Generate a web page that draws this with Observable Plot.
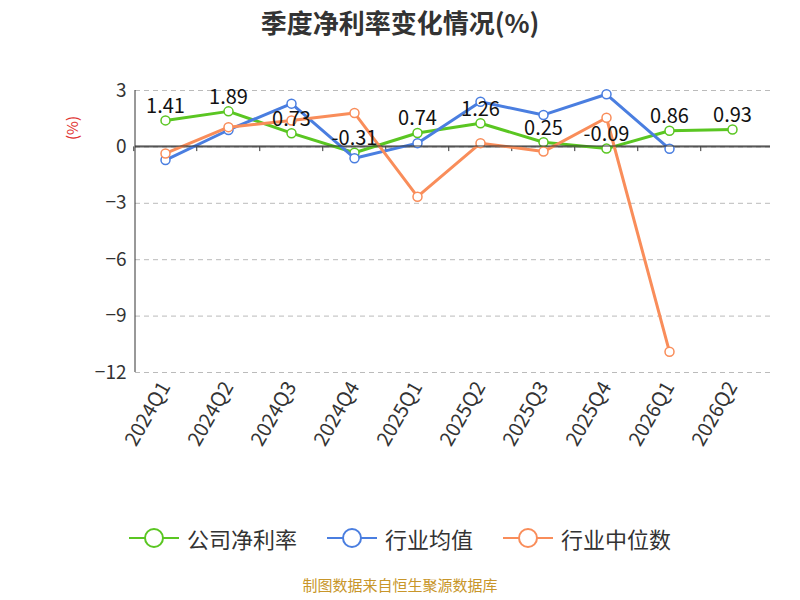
<!DOCTYPE html><html><head><meta charset="utf-8">
<script src="https://cdn.jsdelivr.net/npm/d3@7"></script>
<script src="https://cdn.jsdelivr.net/npm/@observablehq/plot@0.6"></script>
<style>body{margin:0;width:800px;height:600px;font-family:"Noto Sans CJK SC","Noto Sans",sans-serif;background:#fff}
#t{height:60px;line-height:44px;text-align:center;font-size:26px;font-weight:bold;color:#333}
#lg{display:flex;justify-content:center;gap:30px;font-size:22px;color:#333;margin-top:22px}
#lg span{display:flex;align-items:center;gap:8px}
#c{text-align:center;color:#c8962a;font-size:15px;margin-top:20px}</style></head><body>
<div id="t">季度净利率变化情况(%)</div><div id="p"></div>
<div id="lg"></div><div id="c">制图数据来自恒生聚源数据库</div>
<script>
const quarters=["2024Q1","2024Q2","2024Q3","2024Q4","2025Q1","2025Q2","2025Q3","2025Q4","2026Q1","2026Q2"];
const company=[1.41,1.89,0.73,-0.31,0.74,1.26,0.25,-0.09,0.86,0.93];
const industryAvg=[-0.7,0.9,2.3,-0.6,0.2,2.4,1.7,2.8,-0.1];
const industryMed=[-0.35,1.05,1.4,1.8,-2.65,0.2,-0.25,1.55,-10.9];
const yTicks=[3,0,-3,-6,-9,-12];
const names=["公司净利率","行业均值","行业中位数"],colors=["#5ac622","#4a7ee0","#f98d5a"];
const mk=(v)=>v.map((y,i)=>({x:quarters[i],y}));
const sets=[mk(company),mk(industryAvg),mk(industryMed)];
const marks=[
 Plot.gridY(yTicks,{y:d=>d,stroke:"#bbb",strokeOpacity:1,strokeDasharray:"5,4"}),
 Plot.ruleY([0],{stroke:"#333"}),
 Plot.ruleX(quarters,{x:d=>d,y1:0,y2:-0.25,stroke:"#333",dx:-31.75}),
 Plot.axisY(yTicks,{tickSize:0,fontSize:19,fill:"#333",label:null}),
 Plot.axisX({tickSize:0,tickRotate:-60,fontSize:20,fill:"#333",label:null,anchor:"bottom"}),
];
sets.forEach((s,k)=>{
 marks.push(Plot.line(s,{x:"x",y:"y",stroke:colors[k],strokeWidth:3}));
 marks.push(Plot.dot(s,{x:"x",y:"y",r:4.5,stroke:colors[k],fill:"#fff",strokeWidth:1.5}));
});
marks.push(Plot.text(sets[0],{x:"x",y:"y",text:d=>d.y.toFixed(2),dy:-14,fontSize:20,fill:"#111"}));
const svg=Plot.plot({width:800,height:440,marginLeft:135,marginRight:30,marginTop:30,marginBottom:128,
 style:{fontFamily:"'Noto Sans CJK SC','Noto Sans',sans-serif",overflow:"visible"},
 x:{type:"point",domain:quarters,padding:0.5,range:[131,766]},
 y:{domain:[-12,3],range:[312,30]},marks});
const g=d3.select(svg);
g.append("line").attr("x1",135).attr("x2",135).attr("y1",30).attr("y2",312).attr("stroke","#333");
g.append("line").attr("x1",135).attr("x2",770).attr("y1",86).attr("y2",86).attr("stroke","#333");
g.append("text").attr("transform","translate(78,68) rotate(-90)").attr("fill","#e03030").attr("font-size",15).attr("text-anchor","middle").text("(%)");
document.getElementById("p").append(svg);
document.getElementById("lg").innerHTML=names.map((n,k)=>`<span><svg width="50" height="24"><line x1="0" x2="50" y1="12" y2="12" stroke="${colors[k]}" stroke-width="2"/><circle cx="25" cy="12" r="9" fill="#fff" stroke="${colors[k]}" stroke-width="2"/></svg>${n}</span>`).join("");
</script></body></html>
